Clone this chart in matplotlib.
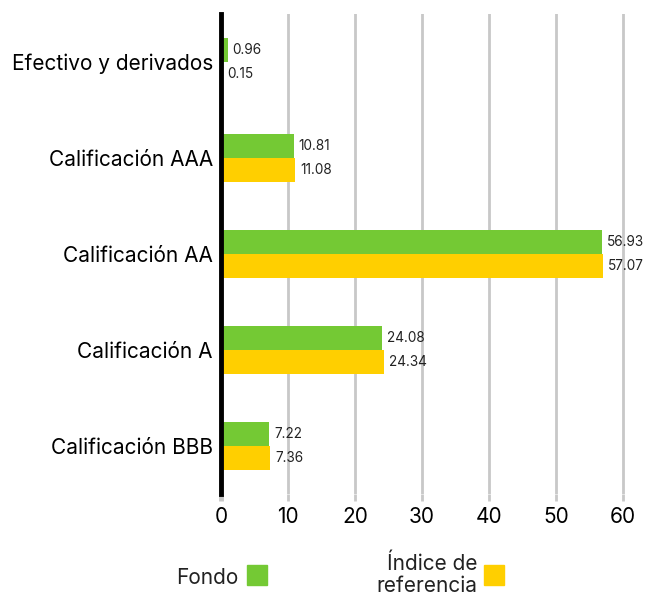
import numpy as np
import matplotlib.pyplot as plt
from matplotlib.patches import Rectangle

categories = ["Efectivo y derivados", "Calificación AAA", "Calificación AA",
              "Calificación A", "Calificación BBB"]
fondo = [0.96, 10.81, 56.93, 24.08, 7.22]
indice = [0.15, 11.08, 57.07, 24.34, 7.36]
xticks = [0, 10, 20, 30, 40, 50, 60]

green = "#74c934"
yellow = "#ffcf00"
plt.rcParams["font.family"] = ["Inter", "DejaVu Sans"]

fig = plt.figure(figsize=(6.6, 5.99), dpi=100)
ax = fig.add_axes([0.335, 0.175, 0.614, 0.802])

y = np.arange(len(categories))
h = 0.25
ax.barh(y - h / 2, fondo, height=h, color=green, zorder=3)
ax.barh(y + h / 2, indice, height=h, color=yellow, zorder=3)

for yi, v in zip(y, fondo):
    ax.text(v + 0.7, yi - h / 2, f"{v:.2f}", va="center", ha="left", fontsize=9.8, color="#222222")
for yi, v in zip(y, indice):
    ax.text(v + 0.7, yi + h / 2, f"{v:.2f}", va="center", ha="left", fontsize=9.8, color="#222222")

ax.set_ylim(len(categories) - 0.5, -0.5)
ax.set_xlim(0, 60.5)
ax.set_yticks(y)
ax.set_yticklabels(categories, fontsize=15)
ax.set_xticks(xticks)
ax.set_xticklabels([str(t) for t in xticks], fontsize=15)
ax.tick_params(axis="y", length=0, pad=6)
ax.tick_params(axis="x", length=5, width=2, color="#c8c8c8", pad=4)
ax.get_xticklines()[0].set_color("black")
ax.get_xticklines()[0].set_markeredgewidth(3.5)

ax.grid(axis="x", color="#c8c8c8", linewidth=2, zorder=0)
for s in ["top", "right", "bottom"]:
    ax.spines[s].set_visible(False)
ax.spines["left"].set_linewidth(3.5)
ax.spines["left"].set_color("black")
ax.spines["left"].set_zorder(4)

# legend
fig.text(238 / 660, 1 - 578 / 599, "Fondo", ha="right", va="center", fontsize=15, color="#222222")
fig.patches.append(Rectangle((247 / 660, 1 - 585 / 599), 20 / 660, 20 / 599,
                             transform=fig.transFigure, color=green))
fig.text(477 / 660, 1 - 575 / 599, "Índice de\nreferencia", ha="right", va="center",
         fontsize=15, color="#222222", linespacing=1.15)
fig.patches.append(Rectangle((484 / 660, 1 - 585 / 599), 20 / 660, 20 / 599,
                             transform=fig.transFigure, color=yellow))

fig.savefig("out.png", dpi=100)
